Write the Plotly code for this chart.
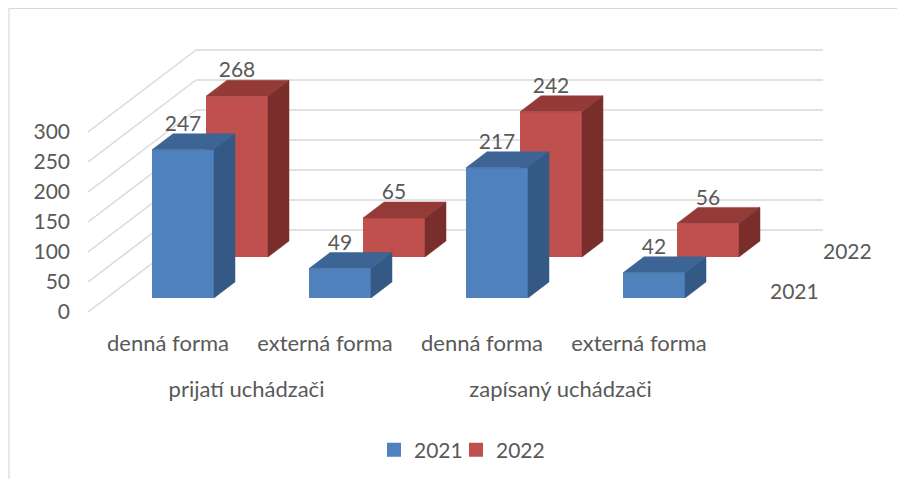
import plotly.graph_objects as go

# ---------------- data ----------------
categories = ["denná forma", "externá forma", "denná forma", "externá forma"]
groups = ["prijatí uchádzači", "zapísaný uchádzači"]
series_names = ["2021", "2022"]
values_2021 = [247, 49, 217, 42]
values_2022 = [268, 65, 242, 56]
y_ticks = [0, 50, 100, 150, 200, 250, 300]

# ---------------- geometry / style ----------------
OFF = 0                    # page offset of the plot div (body margin removed below)
W, H = 897, 479
PPU = 0.6                  # pixels per value unit
FRONT0 = 312               # page pixel row of value 0 on the front plane
Y_MIN = (FRONT0 - OFF - H) / PPU
Y_MAX = (FRONT0 - OFF) / PPU

def u(px):                 # vertical pixel offset -> value units
    return px / PPU

def px_x(p):               # page pixel x -> paper x
    return (p - OFF) / W

def px_y(p):               # page pixel y -> paper y
    return 1 - (p - OFF) / H

BAR_W = 62
STEP = 157
X0_BLUE = 152
ROW_DX = {"2021": 0, "2022": 54}
ROW_BASE = {"2021": u(312 - 298), "2022": u(312 - 257)}
DEPTH_DX, DEPTH_DY = 21, u(16)
WALL_DX, WALL_DY = 108, u(82)
WALL_X0, WALL_X1 = 88, 823

COLORS = {
    "2021": dict(front="#4F81BD", top="#3C6494", side="#345985"),
    "2022": dict(front="#C0504D", top="#943A37", side="#7A2E2C"),
}
TXT = "#595959"
FONT = "Lato"
FS_NUM = 21
FS_TXT = 22

fig = go.Figure()

# gridlines: left wall diagonals + back wall horizontals
shapes = []
for v in y_ticks:
    shapes.append(dict(type="line", xref="x", yref="y", layer="below",
                       x0=WALL_X0, y0=v, x1=WALL_X0 + WALL_DX, y1=v + WALL_DY,
                       line=dict(color="#D9D9D9", width=1.5)))
    shapes.append(dict(type="line", xref="x", yref="y", layer="below",
                       x0=WALL_X0 + WALL_DX, y0=v + WALL_DY, x1=WALL_X1, y1=v + WALL_DY,
                       line=dict(color="#D9D9D9", width=1.5)))
# chart frame (right and bottom edges lie outside the picture)
shapes.append(dict(type="rect", xref="paper", yref="paper",
                   x0=px_x(9), x1=1.05, y0=-0.05, y1=px_y(8.5),
                   line=dict(color="#D9D9D9", width=1.2), fillcolor="rgba(0,0,0,0)"))

# draw back row (2022) first, then front row (2021)
for name, vals in [("2022", values_2022), ("2021", values_2021)]:
    c = COLORS[name]
    base = ROW_BASE[name]
    xs_left = [X0_BLUE + ROW_DX[name] + STEP * i for i in range(len(vals))]
    centers = [x + BAR_W / 2 for x in xs_left]
    fig.add_trace(go.Bar(x=centers, y=vals, base=[base] * len(vals), width=BAR_W,
                         name=name, marker=dict(color=c["front"], line=dict(width=0)),
                         showlegend=False, hoverinfo="skip"))
    for xl, v in zip(xs_left, vals):
        xr = xl + BAR_W
        top = base + v
        fig.add_trace(go.Scatter(
            x=[xl, xr, xr + DEPTH_DX, xl + DEPTH_DX, xl],
            y=[top, top, top + DEPTH_DY, top + DEPTH_DY, top],
            fill="toself", fillcolor=c["top"], mode="lines",
            line=dict(color=c["top"], width=0.5), showlegend=False, hoverinfo="skip"))
        fig.add_trace(go.Scatter(
            x=[xr, xr + DEPTH_DX, xr + DEPTH_DX, xr, xr],
            y=[base, base + DEPTH_DY, top + DEPTH_DY, top, base],
            fill="toself", fillcolor=c["side"], mode="lines",
            line=dict(color=c["side"], width=0.5), showlegend=False, hoverinfo="skip"))
    fig.add_trace(go.Scatter(
        x=centers, y=[base + v + u(24) for v in vals], mode="text",
        text=[str(v) for v in vals], textposition="middle center",
        textfont=dict(family=FONT, size=FS_NUM, color=TXT),
        showlegend=False, hoverinfo="skip"))

# legend entries (square swatches), one legend per series for exact placement
for name, lg in [("2021", "legend"), ("2022", "legend2")]:
    fig.add_trace(go.Scatter(x=[None], y=[None], mode="markers", name=name,
                             marker=dict(symbol="square", size=14, color=COLORS[name]["front"]),
                             legend=lg, hoverinfo="skip"))

# depth-axis (series) labels
fig.add_annotation(x=847, y=u(FRONT0 - 250), xref="x", yref="y", text="2022",
                   showarrow=False, font=dict(family=FONT, size=FS_NUM, color=TXT))
fig.add_annotation(x=794, y=u(FRONT0 - 290), xref="x", yref="y", text="2021",
                   showarrow=False, font=dict(family=FONT, size=FS_NUM, color=TXT))

cat_centers = [X0_BLUE + BAR_W / 2 - 15 + STEP * i for i in range(len(categories))]
grp_centers = [(cat_centers[0] + cat_centers[1]) / 2, (cat_centers[2] + cat_centers[3]) / 2]

legend_style = dict(orientation="h", xanchor="left", yanchor="middle",
                    font=dict(family=FONT, size=FS_NUM, color=TXT),
                    itemwidth=30, bgcolor="rgba(0,0,0,0)")

fig.update_layout(
    width=W, height=H,
    margin=dict(l=0, r=0, t=0, b=0),
    paper_bgcolor="white", plot_bgcolor="white",
    shapes=shapes,
    barmode="overlay",
    font=dict(family=FONT, size=FS_NUM, color=TXT),
    xaxis=dict(range=[OFF, OFF + W], domain=[0, 1], anchor="free", position=px_y(328),
               tickmode="array", tickvals=cat_centers, ticktext=categories,
               showgrid=False, zeroline=False, showline=False, ticks="",
               tickfont=dict(family=FONT, size=FS_TXT, color=TXT), fixedrange=True),
    xaxis2=dict(range=[OFF, OFF + W], domain=[0, 1], overlaying="x", anchor="free",
                position=px_y(374), side="bottom",
                tickmode="array", tickvals=grp_centers, ticktext=groups,
                showgrid=False, zeroline=False, showline=False, ticks="",
                tickfont=dict(family=FONT, size=FS_TXT, color=TXT), fixedrange=True),
    yaxis=dict(range=[Y_MIN, Y_MAX], domain=[0, 1], anchor="free", position=px_x(70),
               tickmode="array", tickvals=y_ticks,
               showgrid=False, zeroline=False, showline=False, ticks="",
               tickfont=dict(family=FONT, size=FS_NUM, color=TXT), fixedrange=True),
    legend=dict(x=px_x(374), y=px_y(450), **legend_style),
    legend2=dict(x=px_x(456), y=px_y(450), **legend_style),
    showlegend=True,
)
# dummy trace to activate xaxis2
fig.add_trace(go.Scatter(x=[None], y=[None], xaxis="x2", showlegend=False, hoverinfo="skip"))

fig.write_html("out.html", config={"displayModeBar": False},
               post_script="document.body.style.margin='0';document.body.style.overflow='hidden';")
